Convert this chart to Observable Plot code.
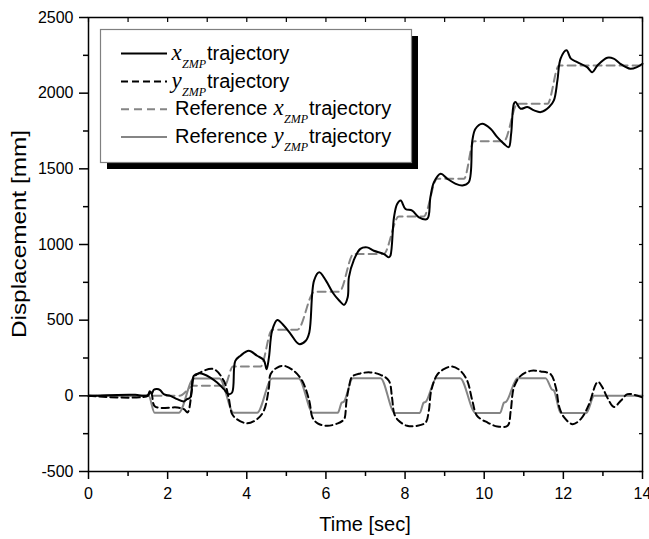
<!DOCTYPE html>
<html>
<head>
<meta charset="utf-8">
<script src="https://cdn.jsdelivr.net/npm/d3@7"></script>
<script src="https://cdn.jsdelivr.net/npm/@observablehq/plot@0.6"></script>
<style>
  html, body { margin: 0; padding: 0; background: #fff; }
  #chart svg { display: block; }
</style>
</head>
<body>
<div id="chart"></div>
<script>
// ---- data (time in sec, displacement in mm) ----
const xZmpT = [0,1.18,1.39,1.50,1.55,1.60,1.65,1.73,1.81,1.90,2.07,2.24,2.41,2.49,2.57,2.66,2.78,2.91,3.08,3.25,3.42,3.54,3.63,3.71,3.84,4.05,4.26,4.43,4.50,4.56,4.64,4.77,4.94,5.11,5.32,5.49,5.58,5.70,5.83,6.00,6.17,6.34,6.46,6.55,6.58,6.70,6.87,7.04,7.21,7.47,7.59,7.63,7.72,7.80,7.89,8.01,8.18,8.35,8.56,8.64,8.73,8.90,9.07,9.28,9.45,9.61,9.70,9.78,9.95,10.16,10.33,10.50,10.62,10.68,10.75,10.79,10.92,11.09,11.26,11.43,11.64,11.76,11.85,11.93,12.08,12.19,12.35,12.60,12.73,12.86,13.11,13.27,13.44,13.69,13.86,14];
const xZmpV = [0,7,0,5,30,15,40,45,38,11,0,-22,-37,-22,-11,132,148,143,121,88,44,11,22,231,265,298,265,236,176,254,430,501,463,408,342,364,419,761,816,761,683,628,601,651,783,894,971,981,959,937,915,926,1180,1268,1290,1235,1224,1180,1169,1312,1411,1467,1434,1401,1390,1411,1687,1765,1798,1765,1709,1665,1643,1731,1930,1941,1897,1908,1886,1875,1908,1952,2084,2228,2283,2228,2205,2172,2139,2183,2234,2228,2194,2161,2172,2194];

const yZmpT = [0,1.50,1.55,1.60,1.68,2.24,2.41,2.50,2.53,2.61,2.66,2.82,3.16,3.42,3.54,3.63,3.75,4.01,4.26,4.43,4.56,4.60,4.77,4.94,5.19,5.40,5.58,5.66,5.79,6.04,6.30,6.42,6.47,6.52,6.58,6.66,6.87,7.12,7.38,7.59,7.67,7.73,7.84,8.05,8.31,8.52,8.60,8.66,8.81,8.98,9.19,9.40,9.57,9.70,9.82,10.08,10.33,10.59,10.67,10.75,10.92,11.17,11.43,11.68,11.81,11.90,12.02,12.23,12.44,12.65,12.82,12.88,12.99,13.11,13.28,13.45,13.62,13.79,14];
const yZmpV = [0,0,30,10,-70,-77,-88,-110,-100,34,121,154,177,99,-11,-121,-154,-182,-154,-99,55,143,187,198,165,99,-33,-143,-182,-198,-182,-165,-150,-33,55,126,148,155,139,100,-11,-121,-165,-198,-198,-176,-99,33,139,176,194,165,100,-33,-132,-176,-202,-198,-99,55,132,165,161,143,55,-77,-143,-187,-154,-55,77,93,55,-11,-73,-33,11,7,-11];

const refXT = [0,2.30,2.66,3.44,3.65,4.35,4.64,5.28,5.71,6.34,6.70,7.46,7.84,8.47,8.81,9.49,9.74,10.50,10.84,11.60,11.89,14];
const refXV = [0,0,67,67,194,194,437,437,688,688,938,938,1185,1185,1434,1434,1683,1683,1930,1930,2183,2183];

const refYT = [0,1.52,1.67,2.28,2.66,3.31,3.67,4.26,4.64,5.31,5.67,6.30,6.40,6.45,6.68,7.38,7.74,8.37,8.47,8.52,8.79,9.39,9.78,10.40,10.50,10.55,10.84,11.55,11.72,11.76,11.93,12.58,12.78,14];
const refYV = [0,0,-112,-112,115,115,-112,-112,115,115,-112,-112,-45,-40,117,117,-113,-113,-45,-40,117,117,-113,-113,-45,-40,117,117,40,35,-113,-113,0,0];

const xMajor = [0,2,4,6,8,10,12,14];
const xMinor = [1,3,5,7,9,11,13];
const yMajor = [-500,0,500,1000,1500,2000,2500];
const yMinor = [-250,250,750,1250,1750,2250];
const xLabel = "Time [sec]";
const yLabel = "Displacement [mm]";
const legendItems = [
  {pre: "", sym: "x", post: "trajectory", stroke: "#000", dash: null},
  {pre: "", sym: "y", post: "trajectory", stroke: "#000", dash: "7,4"},
  {pre: "Reference", sym: "x", post: "trajectory", stroke: "#858585", dash: "8,5"},
  {pre: "Reference", sym: "y", post: "trajectory", stroke: "#858585", dash: null}
];

const toRows = (T, V) => T.map((t, i) => ({t, v: V[i]}));
const xZmp = toRows(xZmpT, xZmpV);
const yZmp = toRows(yZmpT, yZmpV);
const refX = toRows(refXT, refXV);
const refY = toRows(refYT, refYV);

const gray = "#858585";
const allX = d3.range(0, 15, 1);
const allY = d3.range(-500, 2501, 250);

const chart = Plot.plot({
  width: 649,
  height: 539,
  marginLeft: 88,
  marginRight: 7,
  marginTop: 17,
  marginBottom: 68,
  x: {domain: [0, 14]},
  y: {domain: [-500, 2500]},
  style: {fontFamily: "'Liberation Sans', Arial, sans-serif", fontSize: "16px", color: "#000", background: "#fff"},
  marks: [
    Plot.axisX({ticks: xMajor, tickSize: 8, tickPadding: 8, tickFormat: d => String(d), label: null, strokeWidth: 1.5}),
    Plot.axisX({ticks: xMinor, tickSize: 5, text: null, label: null, strokeWidth: 1.5}),
    Plot.axisY({ticks: yMajor, tickSize: 9, tickPadding: 6, tickFormat: d => String(d), label: null, strokeWidth: 1.5}),
    Plot.axisY({ticks: yMinor, tickSize: 5, text: null, label: null, strokeWidth: 1.5}),
    Plot.axisX({anchor: "top", ticks: allX, tickSize: 4, dy: 4, text: null, label: null, strokeWidth: 1.2}),
    Plot.axisY({anchor: "right", ticks: allY, tickSize: 4, dx: -4, text: null, label: null, strokeWidth: 1.2}),
    Plot.line(refY, {x: "t", y: "v", stroke: gray, strokeWidth: 2, curve: "monotone-x"}),
    Plot.line(refX, {x: "t", y: "v", stroke: gray, strokeWidth: 2, strokeDasharray: "8,5", curve: "monotone-x"}),
    Plot.line(yZmp, {x: "t", y: "v", stroke: "#000", strokeWidth: 2, strokeDasharray: "7,4", curve: "catmull-rom"}),
    Plot.line(xZmp, {x: "t", y: "v", stroke: "#000", strokeWidth: 2, curve: "catmull-rom"}),
    Plot.frame({stroke: "#000", strokeWidth: 1.5})
  ]
});

document.getElementById("chart").appendChild(chart);

// ---- axis titles and legend ----
const svg = d3.select(chart);
const sans = "'Liberation Sans', Arial, sans-serif";
const serif = "'Liberation Serif', 'Times New Roman', serif";

svg.append("text")
  .attr("x", 365).attr("y", 531)
  .attr("text-anchor", "middle")
  .attr("font-family", sans)
  .attr("font-size", 20)
  .attr("fill", "#000")
  .text(xLabel);

svg.append("text")
  .attr("transform", "translate(26,234) rotate(-90)")
  .attr("text-anchor", "middle")
  .attr("font-family", sans)
  .attr("font-size", 21)
  .attr("textLength", 208)
  .attr("lengthAdjust", "spacingAndGlyphs")
  .attr("fill", "#000")
  .text(yLabel);

const lg = svg.append("g").attr("text-anchor", "start");
lg.append("rect").attr("x", 107).attr("y", 36).attr("width", 311).attr("height", 133).attr("fill", "#000");
lg.append("rect").attr("x", 100.5).attr("y", 29.5).attr("width", 311).attr("height", 133)
  .attr("fill", "#fff").attr("stroke", "#808080").attr("stroke-width", 1.2);

const rowY = [53.5, 81.5, 109.3, 137];
legendItems.forEach((it, i) => {
  const cy = rowY[i];
  lg.append("line").attr("x1", 121).attr("x2", 167).attr("y1", cy).attr("y2", cy)
    .attr("stroke", it.stroke).attr("stroke-width", 2)
    .attr("stroke-dasharray", it.dash);
  const base = cy + 6;
  const symX = it.pre ? 273.5 : 171.5;
  if (it.pre) {
    lg.append("text").attr("x", 175).attr("y", base).attr("text-anchor", "start")
      .attr("font-family", sans).attr("font-size", 20).attr("fill", "#000")
      .text(it.pre);
  }
  lg.append("text").attr("x", symX).attr("y", base).attr("text-anchor", "start")
    .attr("font-family", serif).attr("font-style", "italic")
    .attr("font-size", 23).attr("fill", "#000").text(it.sym);
  lg.append("text").attr("x", symX + 10.5).attr("y", base + 8).attr("text-anchor", "start")
    .attr("font-family", serif).attr("font-style", "italic")
    .attr("font-size", 12).attr("fill", "#000").text("ZMP");
  lg.append("text").attr("x", symX + 35.5).attr("y", base).attr("text-anchor", "start")
    .attr("font-family", sans).attr("font-size", 20).attr("fill", "#000")
    .text(it.post);
});
</script>
</body>
</html>
